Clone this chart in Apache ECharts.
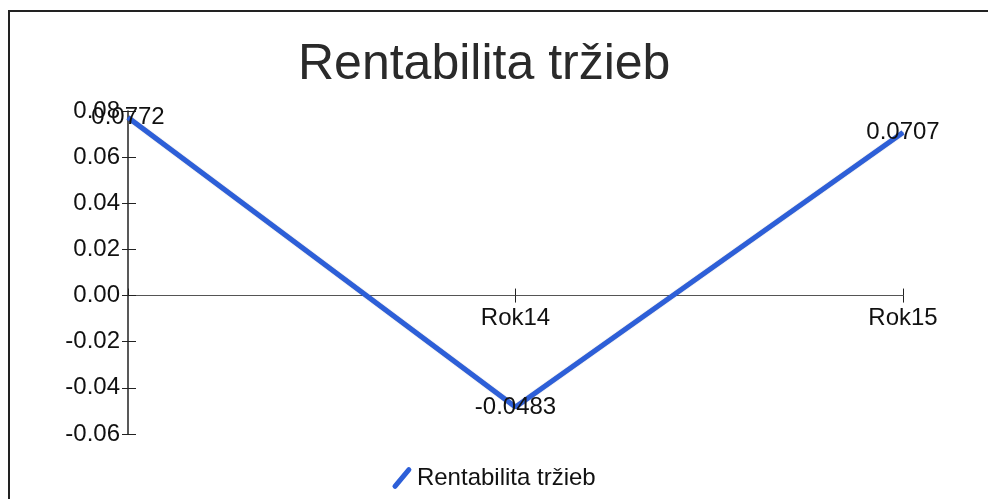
<!DOCTYPE html>
<html>
<head>
<meta charset="utf-8">
<script src="https://cdn.jsdelivr.net/npm/echarts@6/dist/echarts.min.js"></script>
<style>
  html, body { margin: 0; padding: 0; background: #fff; }
  #chart { width: 988px; height: 499px; }
</style>
</head>
<body>
<div id="chart"></div>
<script>
// data
const categories = ['Rok13', 'Rok14', 'Rok15']
const seriesName = 'Rentabilita tržieb'
const values = [0.0772, -0.0483, 0.0707]
const yTicks = [-0.06, -0.04, -0.02, 0.00, 0.02, 0.04, 0.06, 0.08]

const font = "'Liberation Sans', Arial, sans-serif"
const yMin = yTicks[0]
const yMax = yTicks[yTicks.length - 1]
const yStep = 0.02

const gridBox = { left: 128, right: 85, top: 111, bottom: 65 }
const gridHeight = 499 - gridBox.top - gridBox.bottom
// lift the category axis up to the zero line of the value axis
const zeroOffset = -gridHeight * (0 - yMin) / (yMax - yMin)

const chart = echarts.init(document.getElementById('chart'))

// value axis, drawn twice so the ticks cross the line
function yAxisOf(inside) {
  return {
    type: 'value',
    position: 'left',
    min: yMin,
    max: yMax,
    interval: yStep,
    axisLine: { show: !inside, onZero: false, lineStyle: { color: '#222', width: 1.5 } },
    axisTick: { show: true, inside: inside, length: inside ? 8 : 6, lineStyle: { color: '#222' } },
    axisLabel: {
      show: !inside,
      margin: 8,
      color: '#111',
      fontFamily: font,
      fontSize: 24,
      formatter: v => v.toFixed(2)
    },
    splitLine: { show: false }
  }
}

function xAxisOf(inside) {
  return {
    type: 'category',
    data: categories,
    boundaryGap: false,
    position: 'bottom',
    offset: zeroOffset,
    axisLine: { show: !inside, onZero: false, lineStyle: { color: '#555', width: 1 } },
    axisTick: { show: true, inside: inside, length: 7, lineStyle: { color: '#222' } },
    axisLabel: {
      show: !inside,
      showMinLabel: false,
      margin: 11,
      color: '#111',
      fontFamily: font,
      fontSize: 24
    },
    splitLine: { show: false }
  }
}

const options = {
  backgroundColor: '#fff',
  animation: false,
  title: {
    text: seriesName,
    left: 293,
    top: 35,
    textStyle: { fontFamily: font, fontSize: 50, fontWeight: 'normal', color: '#2a2a2a' }
  },
  legend: {
    bottom: 4,
    left: 'center',
    itemWidth: 20,
    itemHeight: 22,
    itemGap: 10,
    data: [{
      name: seriesName,
      icon: 'path://M0,19 L15,1 Q17,-1 19,1 Q21,3 19,5 L4,23 Q2,25 0,23 Q-2,21 0,19 Z'
    }],
    textStyle: { fontFamily: font, fontSize: 24, color: '#111' }
  },
  grid: Object.assign({ containLabel: false }, gridBox),
  xAxis: [xAxisOf(false), xAxisOf(true)],
  yAxis: [yAxisOf(false), yAxisOf(true)],
  graphic: [{
    type: 'rect',
    shape: { x: 9, y: 11, width: 1000, height: 520 },
    style: { fill: 'none', stroke: '#222', lineWidth: 2 },
    silent: true
  }],
  series: [{
    name: seriesName,
    type: 'line',
    xAxisIndex: 0,
    yAxisIndex: 0,
    data: values,
    symbol: 'circle',
    symbolSize: 1,
    showSymbol: true,
    itemStyle: { color: '#2d5fd8' },
    lineStyle: { color: '#2d5fd8', width: 5, shadowColor: 'rgba(20,40,120,0.5)', shadowBlur: 1 },
    label: {
      show: true,
      position: 'inside',
      color: '#111',
      fontFamily: font,
      fontSize: 24,
      formatter: p => String(p.value)
    }
  }]
}

chart.setOption(options)
</script>
</body>
</html>
